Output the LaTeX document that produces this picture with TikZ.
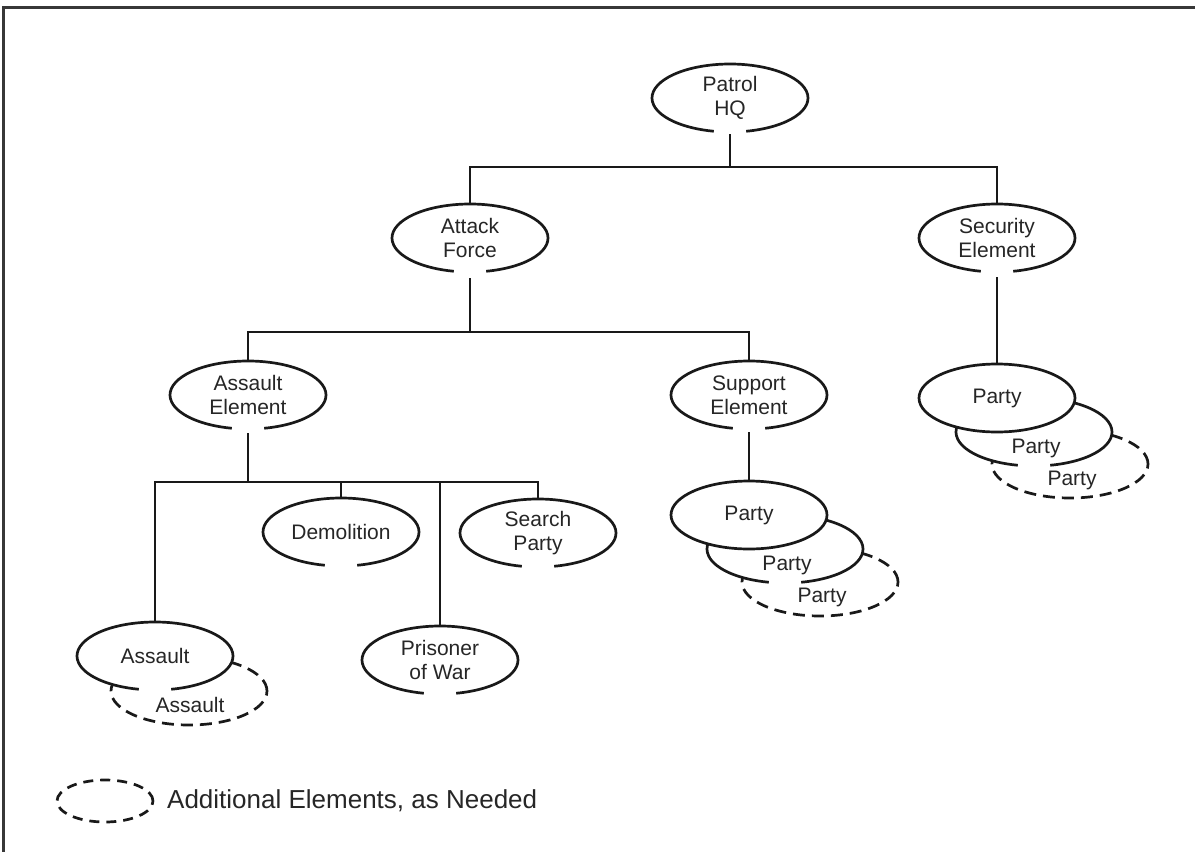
\documentclass[tikz,border=0pt]{standalone}
\usepackage{fontspec}
\setmainfont{Liberation Sans}
\usetikzlibrary{shapes.geometric}

% outline of an oval with a small opening at its bottom
\newcommand\openrim[2][]{%
  \draw[rim,#1] (#2.center) ++(282:78pt and 34pt)
    arc[start angle=282, end angle=618, x radius=78pt, y radius=34pt];}

\begin{document}
\begin{tikzpicture}[x=1pt, y=-1pt,
  rim/.style={line width=2.7pt, black!90},
  oval/.style={ellipse, draw=none, fill=white, inner sep=0pt,
    minimum width=156pt, minimum height=68pt},
  fulloval/.style={oval, draw=black!90, line width=2.7pt},
  extraoval/.style={oval, draw=black!90, line width=2.7pt,
    dash pattern=on 12pt off 7pt},
  lbl/.style={align=center, font=\fontsize{21}{24}\selectfont,
    text=black!85, inner sep=0pt},
  link/.style={line width=2.7pt, black!90},
]
\useasboundingbox (0,0) rectangle (1195,852);

% frame
\draw[line width=3pt, black!78] (3,852) -- (3,7) -- (1195,7);

% ---------- ovals ----------
\node[oval] (pq) at (730,98) {};  \openrim{pq}
\node[lbl] (pq-t) at (pq) {Patrol\\HQ};

\node[oval] (af) at (470,238) {}; \openrim{af}
\node[lbl] (af-t) at (af) {Attack\\Force};

\node[oval] (se) at (997,238) {}; \openrim{se}
\node[lbl] (se-t) at (se) {Security\\Element};

\node[oval] (ae) at (248,395) {}; \openrim{ae}
\node[lbl] (ae-t) at (ae) {Assault\\Element};

\node[oval] (sp) at (749,395) {}; \openrim{sp}
\node[lbl] (sp-t) at (sp) {Support\\Element};

\node[oval] (dm) at (341,532) {}; \openrim{dm}
\node[lbl] (dm-t) at (dm) {Demolition};

\node[oval] (sr) at (538,533) {}; \openrim{sr}
\node[lbl] (sr-t) at (sr) {Search\\Party};

\node[oval] (pw) at (440,660) {}; \openrim{pw}
\node[lbl] (pw-t) at (pw) {Prisoner\\of War};

% assault teams
\node[extraoval] (as2) at (189,691) {};
\node[lbl] (as2-t) at (190,705) {Assault};
\node[oval] (as1) at (155,656) {}; \openrim{as1}
\node[lbl] (as1-t) at (as1) {Assault};

% support parties
\node[extraoval] (u3) at (820,582) {};
\node[lbl] (u3-t) at (822,597) {Party};
\node[oval] (u2) at (785,549) {}; \openrim{u2}
\node[lbl] (u2-t) at (787,565) {Party};
\node[fulloval] (u1) at (749,515) {};
\node[lbl] (u1-t) at (u1) {Party};

% security parties
\node[extraoval] (s3) at (1070,464) {};
\node[lbl] (s3-t) at (1072,480) {Party};
\node[oval] (s2) at (1034,432) {}; \openrim{s2}
\node[lbl] (s2-t) at (1036,448) {Party};
\node[fulloval] (s1) at (997,398) {};
\node[lbl] (s1-t) at (s1) {Party};

% ---------- connectors ----------
\coordinate (b1) at (730,167);
\coordinate (b2) at (470,332);
\coordinate (b3) at (248,482);

\draw[link] ([yshift=-2pt]pq.south) -- (b1);
\draw[link] (af.north) |- (b1) -| (se.north);

\draw[link] ([yshift=-6pt]af.south) -- (b2);
\draw[link] (ae.north) |- (b2) -| (sp.north);

\draw[link] ([yshift=-5pt]se.south) -- (s1.north);
\draw[link] ([yshift=-3pt]sp.south) -- (u1.north);

\draw[link] ([yshift=-4pt]ae.south) -- (b3);
\draw[link] (as1.north) |- (b3) -| (sr.north);
\draw[link] (dm.north) -- (dm.north |- b3);
\draw[link] (pw.north) -- (pw.north |- b3);

% ---------- key ----------
\node[ellipse, draw=black!90, line width=2.7pt, dash pattern=on 10pt off 7pt,
  inner sep=0pt, minimum width=96pt, minimum height=42pt] (key) at (105,801) {};
\node[anchor=west, font=\fontsize{26}{30}\selectfont, text=black!85, inner sep=0pt]
  (key-t) at (167,801) {Additional Elements, as Needed};
\end{tikzpicture}
\end{document}
